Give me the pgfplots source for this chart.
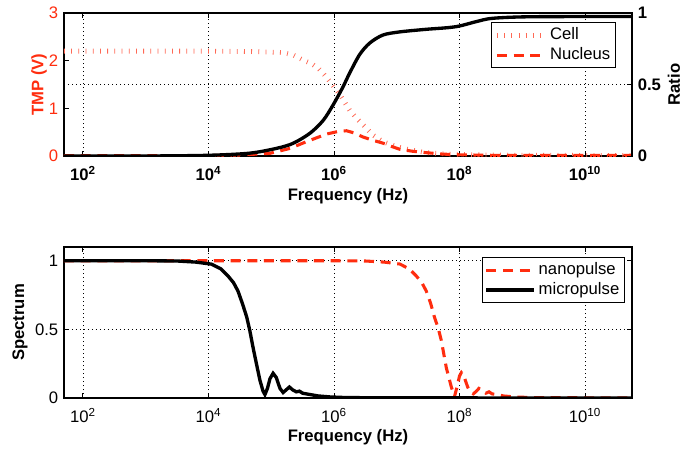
\documentclass[border=0pt]{standalone}
\usepackage{fontspec}
\setmainfont{Liberation Sans}
\usepackage{pgfplots}
\pgfplotsset{compat=1.18}
\definecolor{mred}{RGB}{255,45,15}
\definecolor{mredlt}{RGB}{255,105,85}
\pgfplotsset{
  mstyle/.style={
    scale only axis, width=426pt,
    xmin=1.699, xmax=10.748,
    xtick={2,4,6,8,10},
    tick align=inside,
    major tick length=4pt,
    axis line style={line width=0.9pt},
    every tick/.style={black, line width=0.6pt},
    grid style={black, line width=0.5pt, dash pattern=on 0.5pt off 2.5pt},
    xticklabel style={yshift=-3.5pt},
    legend cell align=left,
    legend image code/.code={\draw[##1] (0pt,0pt) -- (36pt,0pt);},
    legend style={draw=black, line width=0.8pt, font=\fontsize{12.5}{14.5}\selectfont, inner sep=2pt},
  },
  cellstyle/.style={mredlt, line width=3.6pt, dash pattern=on 0.6pt off 4.8pt},
  nucstyle/.style={mred, line width=2.3pt, dash pattern=on 7.5pt off 5pt},
}
\begin{document}
\fontsize{12.5}{14.5}\selectfont
\begin{tikzpicture}
\useasboundingbox (0,0) rectangle (512.25pt,-340.5pt);
% ---------------- top panel, left axis (TMP) ----------------
\begin{axis}[mstyle, at={(48pt,-117pt)}, anchor=south west, height=107.25pt,
  ymin=0, ymax=3, ytick={0,1,2,3}, yticklabels={0,1,2,3},
  ytick pos=left, xtick pos=both,
  yticklabel style={mred},
  xmajorgrids,
  xticklabels={\textbf{10\textsuperscript{2}},\textbf{10\textsuperscript{4}},\textbf{10\textsuperscript{6}},\textbf{10\textsuperscript{8}},\textbf{10\textsuperscript{10}}},
  xlabel={\textbf{Frequency (Hz)}},
  xlabel style={at={(rel axis cs:0.5,-0.28)}, anchor=center},
  ylabel={\textbf{TMP (V)}},
  ylabel style={mred, at={(rel axis cs:-0.044,0.5)}, anchor=center},
]
\addplot[cellstyle] coordinates {
(1.699,2.2) (3,2.2) (4,2.2) (4.71,2.19) (5.19,2.17) (5.35,2.12) (5.51,2.01)
(5.64,1.94) (5.75,1.84) (5.85,1.70) (5.96,1.52) (6.04,1.38) (6.12,1.23)
(6.25,0.96) (6.36,0.79) (6.49,0.62) (6.62,0.44) (6.78,0.30) (6.99,0.20)
(7.21,0.13) (7.47,0.07) (7.8,0.04) (8.2,0.025) (9,0.015) (10.748,0.01)};
\addplot[nucstyle] coordinates {
(1.699,0.005) (3,0.005) (4,0.008) (4.5,0.02) (4.98,0.056) (5.30,0.16) (5.56,0.30)
(5.88,0.46) (6.05,0.51) (6.20,0.53) (6.33,0.48) (6.46,0.40) (6.62,0.33) (6.78,0.27)
(6.92,0.20) (7.05,0.14) (7.25,0.10) (7.47,0.07) (7.73,0.04) (8.0,0.025)
(8.5,0.015) (9.5,0.012) (10.748,0.012)};
\end{axis}
% ---------------- top panel, right axis (Ratio) ----------------
\begin{axis}[mstyle, at={(48pt,-117pt)}, anchor=south west, height=107.25pt,
  axis x line=none, axis y line*=right,
  ymin=0, ymax=1, ytick={0,0.5,1},
  yticklabels={\textbf{0},\textbf{0.5},\textbf{1}},
  ymajorgrids,
  ylabel={\textbf{Ratio}},
  ylabel style={at={(rel axis cs:1.074,0.5)}, anchor=center},
  legend style={at={(0.972,0.937)}, anchor=north east},
]
\addlegendimage{cellstyle}
\addlegendentry{Cell}
\addlegendimage{nucstyle}
\addlegendentry{Nucleus}
\addplot[black, line width=2.5pt, smooth, forget plot] coordinates {
(1.699,0.0) (3,0.0) (4,0.005) (4.66,0.02) (5.09,0.054) (5.35,0.089) (5.62,0.16)
(5.83,0.25) (5.99,0.36) (6.14,0.48) (6.25,0.58) (6.41,0.71) (6.57,0.79)
(6.78,0.846) (7.05,0.868) (7.47,0.886) (7.8,0.897) (8.0,0.909) (8.27,0.94)
(8.53,0.963) (9.16,0.974) (10.748,0.975)};
\end{axis}
% ---------------- bottom panel ----------------
\begin{axis}[mstyle, at={(48pt,-298.5pt)}, anchor=south west, height=113.25pt,
  ymin=0, ymax=1.1, ytick={0,0.5,1}, yticklabels={0,0.5,1},
  xtick pos=both, ytick pos=both,
  xmajorgrids, ymajorgrids,
  xticklabels={10\textsuperscript{2},10\textsuperscript{4},10\textsuperscript{6},10\textsuperscript{8},10\textsuperscript{10}},
  xlabel={\textbf{Frequency (Hz)}},
  xlabel style={at={(rel axis cs:0.5,-0.262)}, anchor=center},
  ylabel={\textbf{Spectrum}},
  ylabel style={at={(rel axis cs:-0.0775,0.5)}, anchor=center},
  legend style={at={(0.988,0.934)}, anchor=north east},
]
\addplot[nucstyle] coordinates {
(1.699,1) (6.0,1) (6.5,0.998) (6.8,0.99) (7.05,0.976) (7.2,0.94) (7.31,0.89)
(7.4,0.84) (7.47,0.78) (7.54,0.69) (7.60,0.59) (7.66,0.51) (7.71,0.42)
(7.75,0.32) (7.79,0.22) (7.83,0.15) (7.87,0.08) (7.92,0.01) (7.96,0.08)
(8.0,0.16) (8.03,0.185) (8.07,0.16) (8.13,0.08) (8.18,0.04) (8.22,0.03)
(8.27,0.05) (8.31,0.07) (8.36,0.055) (8.42,0.035) (8.47,0.045) (8.52,0.03)
(8.6,0.025) (8.7,0.015) (8.9,0.007) (9.2,0.003) (10.748,0)};
\addlegendentry{nanopulse}
\addplot[black, line width=2.5pt] coordinates {
(1.699,1) (3.0,1) (3.5,0.998) (3.8,0.99) (4.05,0.975) (4.2,0.94) (4.31,0.89)
(4.4,0.84) (4.47,0.78) (4.54,0.69) (4.61,0.59) (4.66,0.49) (4.71,0.37)
(4.76,0.26) (4.82,0.13) (4.87,0.05) (4.90,0.025) (4.94,0.07) (4.98,0.14)
(5.03,0.18) (5.08,0.15) (5.14,0.07) (5.19,0.04) (5.24,0.06) (5.29,0.08)
(5.34,0.06) (5.40,0.045) (5.45,0.05) (5.50,0.035) (5.56,0.03) (5.62,0.025)
(5.75,0.015) (5.93,0.008) (6.2,0.003) (7,0.001) (10.748,0)};
\addlegendentry{micropulse}
\end{axis}
\end{tikzpicture}
\end{document}
